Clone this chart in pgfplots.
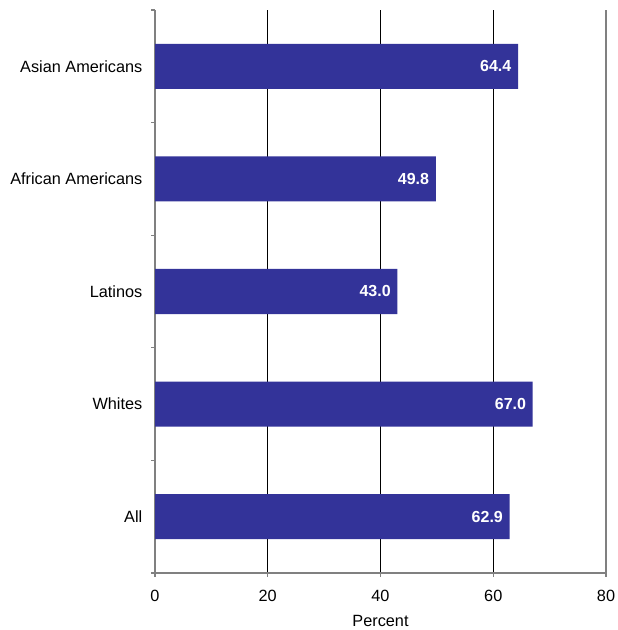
\documentclass[border=0pt]{standalone}
\usepackage{fontspec}
\setmainfont{Liberation Sans}
\usepackage{pgfplots}
\pgfplotsset{compat=1.18}
\definecolor{barblue}{HTML}{333399}
\definecolor{axgray}{HTML}{808080}
\begin{document}
\begin{tikzpicture}[x=1pt,y=1pt]
\begin{axis}[
  scale only axis,
  width=338.25pt, height=422.25pt,
  xmin=0, xmax=80, ymin=-0.5, ymax=4.5,
  xbar, bar width=0.4,
  axis x line*=bottom, axis y line*=left,
  axis line style={axgray, line width=1.2pt},
  xtick={0,20,40,60,80},
  xmajorgrids, grid style={black, line width=0.6pt},
  ytick={-0.5,0.5,1.5,2.5,3.5,4.5},
  yticklabels={},
  extra y ticks={0,1,2,3,4},
  extra y tick labels={All,Whites,Latinos,African Americans,Asian Americans},
  extra y tick style={ytick style={draw=none}, yticklabel style={xshift=-3pt}},
  major tick length=3pt,
  tick style={axgray, line width=0.8pt},
  tick align=outside,
  ticklabel style={font=\fontsize{12.2}{14}\selectfont},
  /pgf/number format/assume math mode=true,
  xticklabel style={yshift=-6pt},
  xlabel={Percent},
  xlabel style={font=\fontsize{12.2}{14}\selectfont, yshift=-4pt},
  point meta=explicit symbolic,
  nodes near coords,
  nodes near coords style={anchor=east, text=white, font=\bfseries\fontsize{12}{14}\selectfont, xshift=-1.5pt},
  clip=false,
]
\addplot[fill=barblue, draw=none] coordinates {
  (62.9,0) [62.9]
  (67.0,1) [67.0]
  (43.0,2) [43.0]
  (49.8,3) [49.8]
  (64.4,4) [64.4]
};
\draw[axgray, line width=1.2pt] (axis cs:80,-0.5) -- (axis cs:80,4.5);
\coordinate (sw) at (rel axis cs:0,0);
\coordinate (ne) at (rel axis cs:1,1);
\end{axis}
\pgfresetboundingbox
\path ([shift={(-116.25pt,-42.75pt)}]sw) rectangle ([shift={(9pt,7.5pt)}]ne);
\end{tikzpicture}
\end{document}
